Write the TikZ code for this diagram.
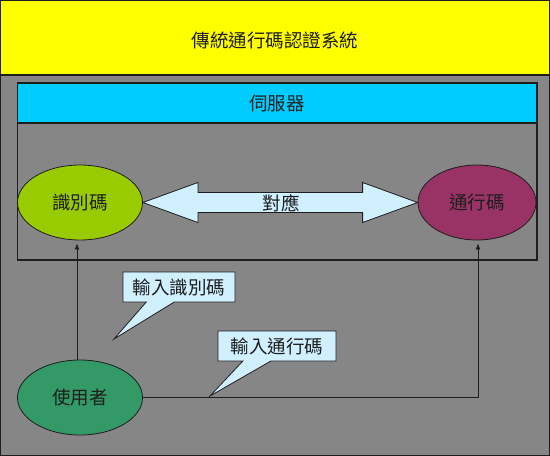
\documentclass[tikz,border=0pt]{standalone}
\usepackage{fontspec}
\setmainfont{Noto Sans CJK TC}
\usetikzlibrary{shapes.geometric,shapes.callouts,arrows.meta}
\definecolor{bggray}{HTML}{868686}
\definecolor{titley}{HTML}{FFFF00}
\definecolor{srvcyan}{HTML}{00CCFF}
\definecolor{pale}{HTML}{D0F0FF}
\definecolor{idgreen}{HTML}{99CC00}
\definecolor{pwpurple}{HTML}{993366}
\definecolor{usergreen}{HTML}{339966}
\definecolor{ink}{HTML}{1E1E1E}
\tikzset{
  lbl/.style={font=\fontsize{18.5}{21}\selectfont, text=ink},
  frame/.style={draw=ink, line width=1.3pt},
  oval/.style={ellipse, draw=ink, line width=0.8pt, inner sep=0pt, lbl},
  conn/.style={draw=ink, line width=0.8pt, -{Latex[length=6pt,width=5pt]}},
  bubble/.style={rectangle callout, draw=ink, line width=0.8pt, fill=pale, lbl,
    minimum height=30pt, inner xsep=6pt, inner ysep=0pt, callout pointer width=28pt},
}
\begin{document}
\begin{tikzpicture}[x=1pt, y=-1pt]
\useasboundingbox (0,0) rectangle (550,456);
% background and title
\path[frame, fill=bggray] (0.7,0.7) rectangle (549.3,455.3);
\path[frame, fill=titley] (0.7,0.7) rectangle (549.3,75);
\node[lbl] (title) at (275,40) {傳統通行碼認證系統};
% server box
\path[frame] (17.5,123) rectangle (537,260);
\path[frame, fill=srvcyan] (17.5,83) rectangle (537,123);
\node[lbl] (srv) at (277,104) {伺服器};
% ellipses
\node[oval, fill=idgreen, minimum width=125pt, minimum height=75pt] (id) at (80,202.5) {識別碼};
\node[oval, fill=pwpurple, minimum width=118pt, minimum height=75pt] (pw) at (477,202.5) {通行碼};
\node[oval, fill=usergreen, minimum width=125pt, minimum height=75pt] (user) at (80,397.5) {使用者};
% double arrow between id and pw
\path (id.east) coordinate (L) (pw.west) coordinate (R);
\draw[draw=ink, line width=0.8pt, fill=pale]
  (L) -- ([shift={(55,-20)}]L) -- ([shift={(55,-10)}]L) -- ([shift={(-55,-10)}]R)
  -- ([shift={(-55,-20)}]R) -- (R) -- ([shift={(-55,20)}]R) -- ([shift={(-55,10)}]R)
  -- ([shift={(55,10)}]L) -- ([shift={(55,20)}]L) -- cycle;
\node[lbl] (map) at (281,203) {對應};
% connectors
\draw[conn] ([xshift=-3pt]user.north) -- ([xshift=-3pt,yshift=-3pt]id.south);
\draw[conn] (user.east) -| ([xshift=1pt,yshift=-3pt]pw.south);
% callouts
\coordinate (p1) at (114,339);
\coordinate (p2) at (210,396);
\node[bubble, minimum width=112pt, callout absolute pointer={(p1)}] (c1) at (179,287) {輸入識別碼};
\node[bubble, minimum width=118pt, callout absolute pointer={(p2)}] (c2) at (277,346) {輸入通行碼};
\end{tikzpicture}
\end{document}
